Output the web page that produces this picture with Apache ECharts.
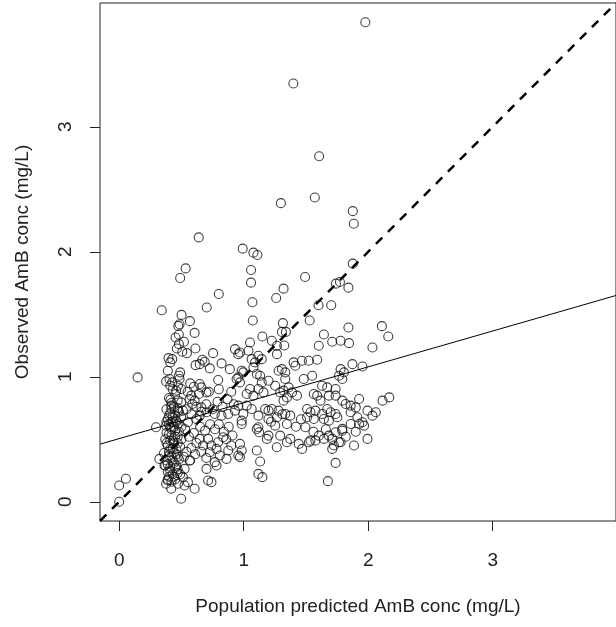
<!DOCTYPE html>
<html>
<head>
<meta charset="utf-8">
<script src="https://cdn.jsdelivr.net/npm/echarts@6/dist/echarts.min.js"></script>
<style>
  html, body { margin: 0; padding: 0; background: #fff; }
  #main { width: 616px; height: 627px; }
</style>
</head>
<body>
<div id="main"></div>
<script>
// population predicted (x) vs observed (y) AmB conc, mg/L
var ptsUpper = [[1.977,3.836],[1.399,3.346],[1.606,2.764],[1.299,2.389],[1.571,2.434],[1.876,2.325],[1.884,2.224],[0.639,2.115],[0.992,2.025],[1.078,1.993],[1.110,1.974],[1.059,1.854],[0.534,1.867],[0.490,1.790],[1.059,1.753],[1.876,1.905],[1.493,1.798],[1.320,1.705],[1.261,1.630],[1.741,1.745],[1.773,1.758],[1.841,1.713],[0.800,1.662],[0.703,1.554],[0.342,1.532],[1.070,1.596],[1.601,1.572],[1.703,1.572],[0.501,1.495],[0.568,1.445],[0.485,1.420],[0.475,1.407],[1.073,1.450],[1.315,1.429],[1.530,1.450],[2.110,1.405],[1.841,1.394],[0.606,1.351],[0.479,1.338],[1.307,1.359],[1.339,1.359],[1.150,1.322],[1.644,1.338],[2.161,1.322],[0.453,1.314],[1.267,1.248],[1.326,1.250]];

var ptsLeft = [[0.480,1.261],[0.520,1.280],[0.544,1.189],[0.507,1.200],[0.463,1.226],[0.612,1.226],[0.754,1.189],[0.396,1.149],[0.410,1.115],[0.426,1.141],[0.668,1.136],[0.687,1.120],[0.647,1.101],[0.614,1.093],[0.728,1.067],[0.822,1.107],[0.889,1.061],[0.148,0.995],[0.391,1.048],[0.404,0.982],[0.426,0.955],[0.377,0.963],[0.480,1.008],[0.490,1.035],[0.472,0.928],[0.498,0.902],[0.458,0.889],[0.485,0.982],[0.571,0.947],[0.647,0.942],[0.660,0.915],[0.641,0.862],[0.701,0.875],[0.795,0.974],[0.566,0.822],[0.579,0.849],[0.606,0.809],[0.587,0.782],[0.412,0.817],[0.418,0.769],[0.498,0.795],[0.472,0.729],[0.512,0.729],[0.660,0.755],[0.296,0.596],[0.377,0.609],[0.418,0.636],[0.458,0.649],[0.498,0.676],[0.552,0.636],[0.620,0.662],[0.647,0.689],[0.701,0.716],[0.768,0.702],[0.822,0.689],[0.876,0.702],[0.930,0.729]];

var ptsLow = [[0,0],[0,0.130],[0.054,0.184],[0.323,0.343],[0.364,0.290],[0.391,0.170],[0.418,0.104],[0.377,0.144],[0.498,0.024],[0.472,0.144],[0.525,0.130],[0.552,0.157],[0.606,0.104],[0.512,0.197],[0.525,0.263],[0.566,0.330],[0.701,0.263],[0.714,0.170],[0.741,0.157],[0.782,0.290],[0.768,0.317],[0.728,0.396],[0.782,0.423],[0.862,0.343],[0.808,0.370],[0.647,0.503],[0.674,0.450],[0.714,0.503],[0.795,0.476],[0.876,0.410],[0.835,0.516]];

var ptsStripe = [[0.40,0.62],[0.42,0.58],[0.38,0.55],[0.45,0.52],[0.41,0.49],[0.47,0.47],[0.39,0.45],[0.43,0.43],[0.40,0.40],[0.46,0.38],[0.42,0.36],[0.38,0.33],[0.44,0.31],[0.41,0.28],[0.47,0.26],[0.39,0.24],[0.43,0.22],[0.40,0.20],[0.45,0.18],[0.42,0.16],[0.48,0.56],[0.44,0.60],[0.39,0.66],[0.43,0.68],[0.46,0.64],[0.41,0.71],[0.38,0.74],[0.44,0.76],[0.48,0.72],[0.42,0.79],[0.40,0.83],[0.47,0.81],[0.45,0.86],[0.43,0.90],[0.41,0.93],[0.49,0.44],[0.48,0.34],[0.46,0.29],[0.49,0.22],[0.37,0.29],[0.37,0.50],[0.36,0.39],[0.50,0.60],[0.50,0.50],[0.44,0.47],[0.42,0.53],
  [0.39,0.18],[0.44,0.20],[0.47,0.23],[0.41,0.25],[0.45,0.27],[0.39,0.30],[0.43,0.33],[0.47,0.36],[0.40,0.37],[0.44,0.39],[0.41,0.42],[0.46,0.42],[0.38,0.47],[0.43,0.49],[0.47,0.52],[0.40,0.54],[0.45,0.57],[0.41,0.60],[0.47,0.62],[0.43,0.64],[0.38,0.64],[0.45,0.69],[0.40,0.69],[0.47,0.75],[0.42,0.74]];

var ptsExtra = [[0.53,0.58],[0.56,0.52],[0.60,0.55],[0.62,0.47],[0.58,0.43],[0.54,0.40],[0.65,0.60],[0.69,0.57],[0.73,0.62],[0.77,0.58],[0.80,0.62],[0.84,0.56],[0.88,0.60],[0.91,0.53],[0.52,0.36],[0.57,0.33],[0.61,0.38],[0.66,0.40],[0.70,0.35],[0.74,0.45],[0.86,0.50],[0.90,0.45],[0.54,0.74],[0.58,0.70],[0.62,0.76],[0.66,0.72],[0.70,0.78],[0.75,0.74],[0.79,0.80],[0.83,0.76],[0.87,0.82],[0.92,0.78],[0.55,0.88],[0.60,0.92],[0.72,0.88],[0.80,0.90],[0.90,0.88]];

var ptsMid = [[0.930,1.221],[0.957,1.181],[0.970,1.194],[1.051,1.274],[1.038,1.208],[1.064,1.141],[1.091,1.115],[1.078,1.075],[1.118,1.168],[1.145,1.141],[0.984,1.048],[0.997,1.035],[0.957,0.995],[0.970,0.955],[0.943,0.982],[1.105,1.022],[1.132,1.008],[1.199,0.968],[1.145,0.955],[1.118,0.902],[1.159,0.875],[1.078,0.849],[1.051,0.902],[1.024,0.862],[1.226,1.288],[1.267,1.181],[1.253,0.928],
  [1.603,1.248],[1.711,1.280],[1.778,1.288],[1.846,1.269],[2.034,1.234],[1.468,1.128],[1.523,1.128],[1.590,1.136],[1.415,1.088],[1.401,1.115],[1.778,1.061],[1.805,1.035],[1.765,1.008],[1.792,0.982],[1.873,1.101],[1.954,1.082],[1.482,0.982],[1.550,1.008],[1.280,1.048],[1.307,1.061],[1.334,1.035],[1.334,0.982],[1.361,0.915],[1.320,0.889],[1.388,0.875],[1.293,0.875],[1.428,0.849],[1.347,0.835],[1.320,0.809],[1.630,0.928],[1.671,0.915],[1.738,0.902],[1.684,0.849],[1.563,0.862],[1.590,0.849],[1.738,0.849],[1.792,0.809],[1.617,0.809],[1.819,0.782],[1.859,0.769],[1.927,0.822],[1.900,0.755],[1.994,0.729],[2.115,0.809],[2.169,0.835],[2.061,0.716],[1.509,0.742],[1.536,0.716],[1.576,0.729],[1.630,0.702],[1.671,0.742],[1.698,0.716],[1.738,0.702],[1.752,0.676],[1.172,0.742],[1.199,0.729],[1.226,0.742],[1.280,0.729],[1.334,0.702],[1.374,0.689],[1.267,0.676],[1.199,0.662],[1.118,0.689],[0.997,0.702],[0.984,0.649],[1.064,0.742],[1.024,0.769],[0.957,0.769],[1.509,0.676],[1.563,0.662],[1.644,0.662],[1.684,0.649],[1.913,0.676],[1.954,0.636],[2.034,0.689],[1.859,0.716]];

var ptsRight = [[1.967,0.609],[1.859,0.622],[1.927,0.622],[1.496,0.596],[1.347,0.622],[1.253,0.609],[1.293,0.529],[1.374,0.503],[1.442,0.463],[1.469,0.423],[1.523,0.476],[1.603,0.529],[1.644,0.503],[1.684,0.529],[1.711,0.503],[1.725,0.450],[1.765,0.476],[1.792,0.583],[1.886,0.450],[1.994,0.503],[1.738,0.311],[1.676,0.165],[1.266,0.436],[1.347,0.476],[1.118,0.223],[1.150,0.197],[1.132,0.322],[1.105,0.410],[0.984,0.622],[1.105,0.582],[1.118,0.596],[1.124,0.556],[0.970,0.463],[0.984,0.410],[0.957,0.370],[0.970,0.357],[1.199,0.529],[1.186,0.503],[1.536,0.489],[1.576,0.489],[1.738,0.556],[1.778,0.476],[1.792,0.569],[1.711,0.423],
  [1.42,0.60],[1.56,0.56],[1.66,0.58],[1.82,0.52],[1.90,0.56],[1.46,0.66],[1.31,0.70],[1.22,0.64]];

// axis range (R style, 4% extension) and tick values
var axisMin = -0.154;
var axisMax = 3.99;
var tickVals = [0, 1, 2, 3];

// regression line: observed = a + b * predicted
var regA = 0.505;
var regB = 0.287;

var allPts = ptsUpper.concat(ptsLeft, ptsLow, ptsStripe, ptsExtra, ptsMid, ptsRight);
var lineX = [axisMin, axisMax];
var identityLine = lineX.map(function (x) { return [x, x]; });
var regLine = lineX.map(function (x) { return [x, regA + regB * x]; });

var font = 'Liberation Sans, Arial, Helvetica, sans-serif';
var txt = '#222';

var myChart = echarts.init(document.getElementById('main'));
var option = {
    animation: false,
    backgroundColor: '#fff',
    grid: {
        left: 100,
        right: 0,
        top: 3,
        bottom: 106,
        show: true,
        borderColor: '#222',
        borderWidth: 1
    },
    xAxis: {
        type: 'value',
        min: axisMin,
        max: axisMax,
        name: 'Population predicted AmB conc (mg/L)',
        nameLocation: 'middle',
        nameGap: 76,
        nameTextStyle: { fontFamily: font, fontSize: 19, color: txt },
        splitLine: { show: false },
        axisLine: { show: false, onZero: false },
        axisTick: { show: true, inside: false, length: 10, customValues: tickVals, lineStyle: { color: '#222' } },
        axisLabel: { show: true, customValues: tickVals, margin: 30, fontFamily: font, fontSize: 19, color: txt }
    },
    yAxis: {
        type: 'value',
        min: axisMin,
        max: axisMax,
        name: 'Observed AmB conc (mg/L)',
        nameLocation: 'middle',
        nameGap: 68,
        nameRotate: 90,
        nameTextStyle: { fontFamily: font, fontSize: 19, color: txt },
        splitLine: { show: false },
        axisLine: { show: false, onZero: false },
        axisTick: { show: true, inside: false, length: 10, customValues: tickVals, lineStyle: { color: '#222' } },
        axisLabel: { show: true, customValues: tickVals, rotate: 90, margin: 25, fontFamily: font, fontSize: 19, color: txt }
    },
    series: [
        {
            type: 'scatter',
            data: allPts,
            symbol: 'circle',
            symbolSize: 9,
            itemStyle: { color: 'rgba(0,0,0,0)', borderColor: '#111', borderWidth: 1.1 },
            z: 3
        },
        {
            type: 'line',
            data: identityLine,
            showSymbol: false,
            lineStyle: { color: '#000', width: 2.5, type: [9, 8] },
            z: 4
        },
        {
            type: 'line',
            data: regLine,
            showSymbol: false,
            lineStyle: { color: '#000', width: 1 },
            z: 4
        }
    ]
};
myChart.setOption(option, true);
</script>
</body>
</html>
